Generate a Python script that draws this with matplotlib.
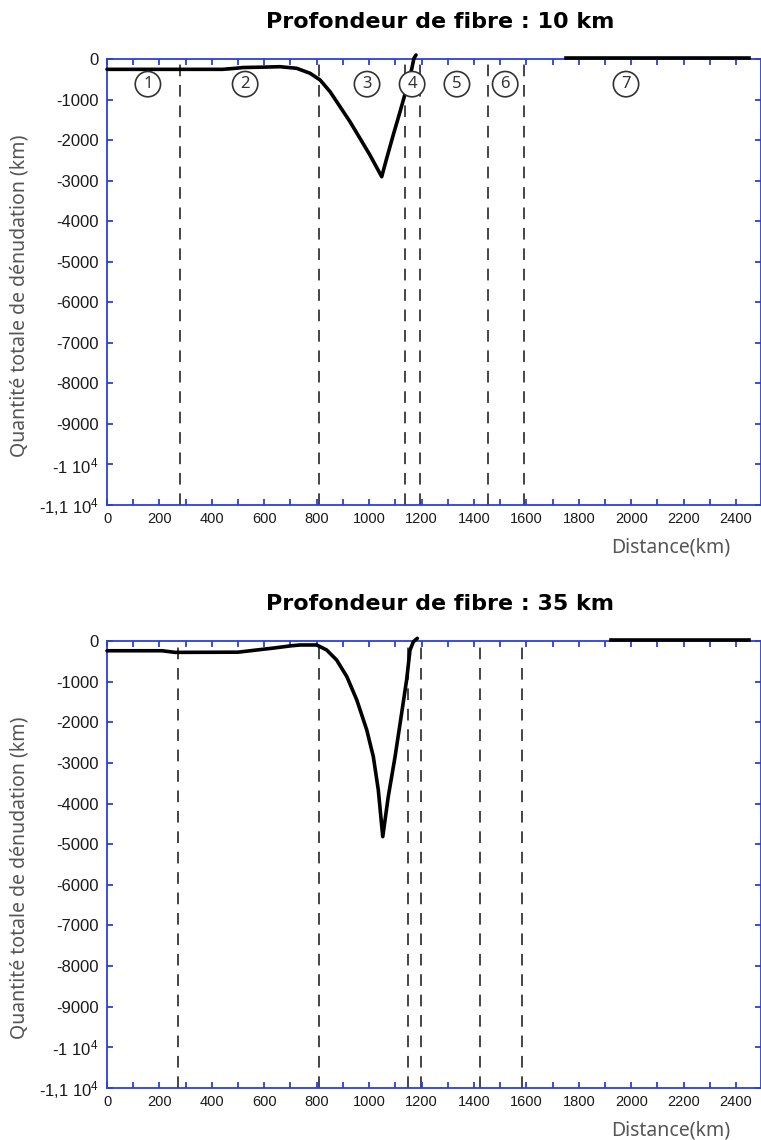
import numpy as np
import matplotlib
matplotlib.use('Agg')
import matplotlib.pyplot as plt

plt.rcParams['font.family'] = ['Liberation Sans', 'DejaVu Sans']
plt.rcParams['mathtext.default'] = 'regular'

# profil 10 km
x10 = [0, 440, 480, 520, 600, 660, 724, 775, 813, 851, 889, 927, 965, 1003, 1048,
       1067, 1092, 1118, 1143, 1163, 1171, 1179]
y10 = [-255, -255, -235, -210, -200, -190, -230, -353, -518, -806, -1176, -1546, -1956, -2367, -2903,
       -2450, -1874, -1299, -723, -230, 17, 99]
bounds10 = [278, 809, 1137, 1194, 1454, 1591]

# profil 35 km
x35 = [0, 210, 260, 500, 560, 640, 700, 736, 800, 838, 876, 915, 953, 991, 1016, 1035, 1052,
       1073, 1099, 1124, 1143, 1156, 1169, 1184]
y35 = [-240, -240, -280, -275, -230, -170, -120, -98, -98, -221, -467, -877, -1452, -2190, -2846, -3666, -4815,
       -3830, -2846, -1780, -960, -221, -16, 66]
bounds35 = [271, 809, 1148, 1198, 1423, 1584]

# segment 7 (plateau a 0)
seg7_10 = [1751, 2449]
seg7_35 = [1923, 2449]

zones = ['1', '2', '3', '4', '5', '6', '7']
zone_x = [156, 527, 992, 1164, 1335, 1519, 1980]

titles = ['Profondeur de fibre : 10 km', 'Profondeur de fibre : 35 km']
yticks = list(range(0, -11001, -1000))
ylabels = ['0'] + [str(v) for v in yticks[1:10]] + ['-1 10$^4$', '-1,1 10$^4$']
xticks_major = list(range(0, 2401, 200))
xticks_minor = list(range(0, 2401, 100))

blue = '#2a3fe0'
gray = '#555555'
sans = ['Noto Sans', 'DejaVu Sans']

fig = plt.figure(figsize=(7.61, 11.4), dpi=100)
ax1 = fig.add_axes([107/761, 1-505/1140, 1-107/761, 446/1140])
ax2 = fig.add_axes([107/761, 1-1088/1140, 1-107/761, 447/1140])

panels = [(ax1, x10, y10, bounds10, seg7_10, 59), (ax2, x35, y35, bounds35, seg7_35, 641)]
for i, (ax, xs, ys, bnds, seg, toppx) in enumerate(panels):
    for b in bnds:
        ax.axvline(b, color='#444444', lw=1.4, dashes=(6, 4.5), zorder=1)
    ax.plot(xs, ys, color='black', lw=2.6, clip_on=False, zorder=3,
            solid_capstyle='round', solid_joinstyle='round')
    ax.plot(seg, [20, 20], color='black', lw=2.6, clip_on=False, zorder=3)
    ax.set_xlim(0, 2495)
    ax.set_ylim(-11000, 0)
    ax.set_xticks(xticks_major)
    ax.set_xticks(xticks_minor, minor=True)
    ax.set_yticks(yticks)
    ax.set_yticklabels(ylabels)
    ax.tick_params(axis='both', which='both', direction='in', color=blue, width=1.3,
                   top=True, right=True, labelcolor='#1a1a1a', length=4)
    ax.tick_params(axis='x', labelsize=10.5, pad=5)
    ax.tick_params(axis='y', labelsize=12, pad=6)
    for sp in ax.spines.values():
        sp.set_color(blue)
        sp.set_linewidth(1.3)
    ax.set_ylabel('Quantité totale de dénudation (km)', fontsize=14, color=gray,
                  family=sans)
    ax.yaxis.set_label_coords(-0.119, 0.47)
    ax.set_xlabel('Distance(km)', fontsize=14, color=gray, family=sans)
    ax.xaxis.set_label_coords(1 - 31/654, -0.072)
    ax.xaxis.label.set_ha('right')
    fig.text(440/761, 1 - (toppx - 37)/1140, titles[i], ha='center', va='center',
             fontsize=16, fontweight='bold', family='DejaVu Sans')

for z, zx in zip(zones, zone_x):
    ax1.text(zx, -620, z, ha='center', va='center', fontsize=12, color='#333333',
             family=sans, zorder=4,
             bbox=dict(boxstyle='circle,pad=0.28', fc='white', ec='#333333', lw=1.2))

fig.savefig('out.png', dpi=100)
